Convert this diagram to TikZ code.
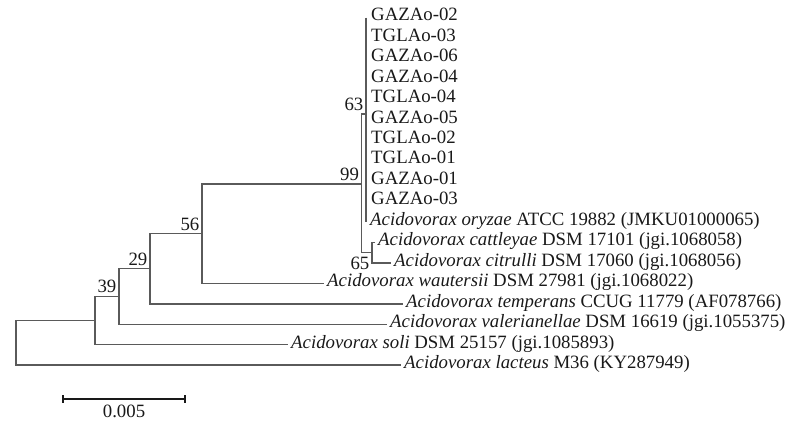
\documentclass[tikz,border=0pt]{standalone}
\usepackage{fontspec}
\setmainfont{Liberation Serif}
\usepackage{tikz}
\usetikzlibrary{positioning,calc}
\definecolor{treeline}{RGB}{90,90,90}
\definecolor{ink}{RGB}{25,25,25}
\tikzset{
  branch/.style={draw=treeline, line width=1.4pt},
  leaf/.style={anchor=west, inner xsep=3pt, inner ysep=0pt, text height=0.66em, text depth=0pt, text=ink, font=\fontsize{18.8}{20}\selectfont},
  boot/.style={anchor=south east, inner xsep=2.5pt, inner ysep=3.5pt, text height=0.66em, text depth=0pt, text=ink, font=\fontsize{18.8}{20}\selectfont},
  scalebar/.style={draw=ink, line width=1.6pt}
}

\begin{document}
\begin{tikzpicture}[x=1pt, y=-1pt]
    \useasboundingbox (0,0) rectangle (789,421);
    % inner nodes of the tree
    \coordinate (root) at (16,342.8);
    \coordinate (ba) at (95,320.5);
    \coordinate (b39) at (119,296.5);
    \coordinate (b29) at (150,268.7);
    \coordinate (b56) at (202,233.7);
    \coordinate (b99) at (361.7,184);
    \coordinate (b63) at (366,114);
    \coordinate (b65) at (372,252.7);
    % isolates
    \node[leaf] (g02) at (368,17.5) {GAZAo-02};
    \node[leaf] (t03) at (368,37.95) {TGLAo-03};
    \node[leaf] (g06) at (368,58.4) {GAZAo-06};
    \node[leaf] (g04) at (368,78.85) {GAZAo-04};
    \node[leaf] (t04) at (368,99.3) {TGLAo-04};
    \node[leaf] (g05) at (368,119.75) {GAZAo-05};
    \node[leaf] (t02) at (368,140.2) {TGLAo-02};
    \node[leaf] (t01) at (368,160.65) {TGLAo-01};
    \node[leaf] (g01) at (368,181.1) {GAZAo-01};
    \node[leaf] (g03) at (368,201.55) {GAZAo-03};
    % reference strains
    \node[leaf] (ory) at (367,222) {\textit{Acidovorax oryzae} ATCC 19882 (JMKU01000065)};
    \node[leaf] (cat) at (375,242.45) {\textit{Acidovorax cattleyae} DSM 17101 (jgi.1068058)};
    \node[leaf] (cit) at (391,262.9) {\textit{Acidovorax citrulli} DSM 17060 (jgi.1068056)};
    \node[leaf] (wau) at (324,283.35) {\textit{Acidovorax wautersii} DSM 27981 (jgi.1068022)};
    \node[leaf] (tem) at (403,303.8) {\textit{Acidovorax temperans} CCUG 11779 (AF078766)};
    \node[leaf] (val) at (387,324.25) {\textit{Acidovorax valerianellae} DSM 16619 (jgi.1055375)};
    \node[leaf] (sol) at (288,344.7) {\textit{Acidovorax soli} DSM 25157 (jgi.1085893)};
    \node[leaf] (lac) at (401,365.15) {\textit{Acidovorax lacteus} M36 (KY287949)};
    % branches
    \draw[branch] (ba) -| (root) |- (lac.west);
    \draw[branch] (b39) -| (ba) |- (sol.west);
    \draw[branch] (b29) -| (b39) |- (val.west);
    \draw[branch] (b56) -| (b29) |- (tem.west);
    \draw[branch] (b99) -| (b56) |- (wau.west);
    \draw[branch] (b63) -| (b99) |- (b65);
    \draw[branch] (cat.west) -| (b65) |- (cit.west);
    \draw[branch] (b63 |- g02.west) -- (b63 |- ory.west);
    % bootstrap values
    \node[boot] (l39) at (b39) {39};
    \node[boot] (l29) at (b29) {29};
    \node[boot] (l56) at (b56) {56};
    \node[boot] (l99) at (b99) {99};
    \node[boot] (l63) at (b63) {63};
    \node[boot, anchor=north east, inner ysep=0.5pt, yshift=-9pt] (l65) at (b65) {65};
    % scale bar
    \coordinate (s0) at (63,399);
    \coordinate (s1) at (185,399);
    \draw[scalebar] (s0) -- (s1);
    \draw[scalebar] ($(s0)+(0,-4)$) -- ($(s0)+(0,4)$);
    \draw[scalebar] ($(s1)+(0,-4)$) -- ($(s1)+(0,4)$);
    \node[leaf, anchor=center] (sl) at ($(s0)!0.5!(s1)+(0,15)$) {0.005};
\end{tikzpicture}
\end{document}
